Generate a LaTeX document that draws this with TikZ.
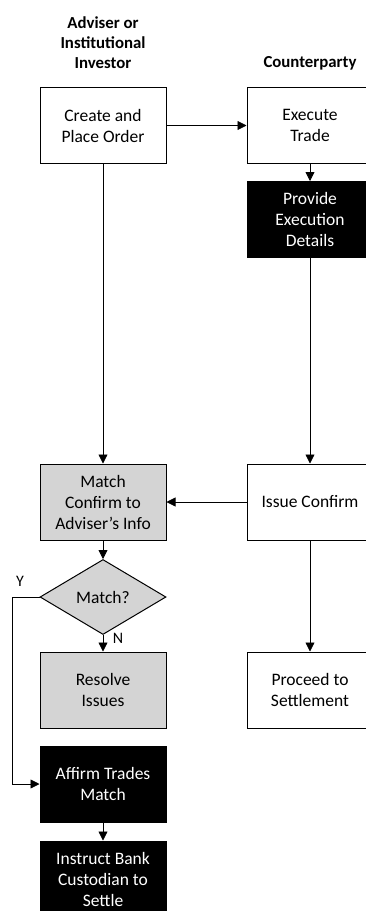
\documentclass[tikz,border=0pt]{standalone}
\usepackage{fontspec}
\setmainfont{Carlito}
\usetikzlibrary{shapes.geometric,arrows.meta}
\tikzset{
  box/.style={draw=black,line width=1pt,minimum width=126pt,minimum height=76pt,inner sep=0pt,align=center,font=\fontsize{17.5}{21}\selectfont},
  whitebox/.style={box,fill=white},
  graybox/.style={box,fill=black!17},
  blackbox/.style={box,fill=black,text=white},
  decision/.style={draw=black,line width=1pt,shape=diamond,minimum width=126pt,minimum height=75pt,inner sep=0pt,fill=black!17,font=\fontsize{17.5}{21}\selectfont},
  header/.style={align=center,font=\bfseries\fontsize{16.8}{20}\selectfont},
  lbl/.style={font=\fontsize{16}{20}\selectfont,inner sep=0pt},
  conn/.style={line width=0.8pt,-{Triangle[width=9pt,length=9pt]}}
}
\begin{document}
\begin{tikzpicture}[x=1pt,y=-1pt]
\useasboundingbox (0,0) rectangle (366,911);
\clip (0,0) rectangle (366,911);
\fill[white] (0,0) rectangle (366,911);
\node[header] (h1) at (103,43) {Adviser or\\Institutional\\Investor};
\node[header] (h2) at (310,63) {Counterparty};
\node[whitebox] (create) at (103,125.5) {Create and\\Place Order};
\node[whitebox] (exec) at (310,125.5) {Execute\\Trade};
\node[blackbox] (prov) at (310,219.5) {Provide\\Execution\\Details};
\node[graybox] (match) at (103,502) {Match\\Confirm to\\Adviser’s Info};
\node[whitebox] (issue) at (310,502) {Issue Confirm};
\node[decision] (dec) at (103,597) {Match?};
\node[graybox] (resolve) at (103,690) {Resolve\\Issues};
\node[whitebox] (proceed) at (310,690) {Proceed to\\Settlement};
\node[blackbox] (affirm) at (103,784) {Affirm Trades\\Match};
\node[blackbox] (instr) at (103,879) {Instruct Bank\\Custodian to\\Settle};
\coordinate (ycorner1) at (12,597);
\coordinate (ycorner2) at (12,784);
\node[lbl] (ylab) at (20,581) {Y};
\node[lbl] (nlab) at (118,638) {N};
\draw[conn] (create) -- (exec);
\draw[conn] (create) -- (match);
\draw[conn] (exec) -- (prov);
\draw[conn] (prov) -- (issue);
\draw[conn] (issue) -- (match);
\draw[conn] (match) -- (dec);
\draw[conn] (dec) -- (resolve);
\draw[conn] (issue) -- (proceed);
\draw[conn] (dec.west) -- (ycorner1) -- (ycorner2) -- (affirm.west);
\draw[conn] (affirm) -- (instr);
\end{tikzpicture}
\end{document}
